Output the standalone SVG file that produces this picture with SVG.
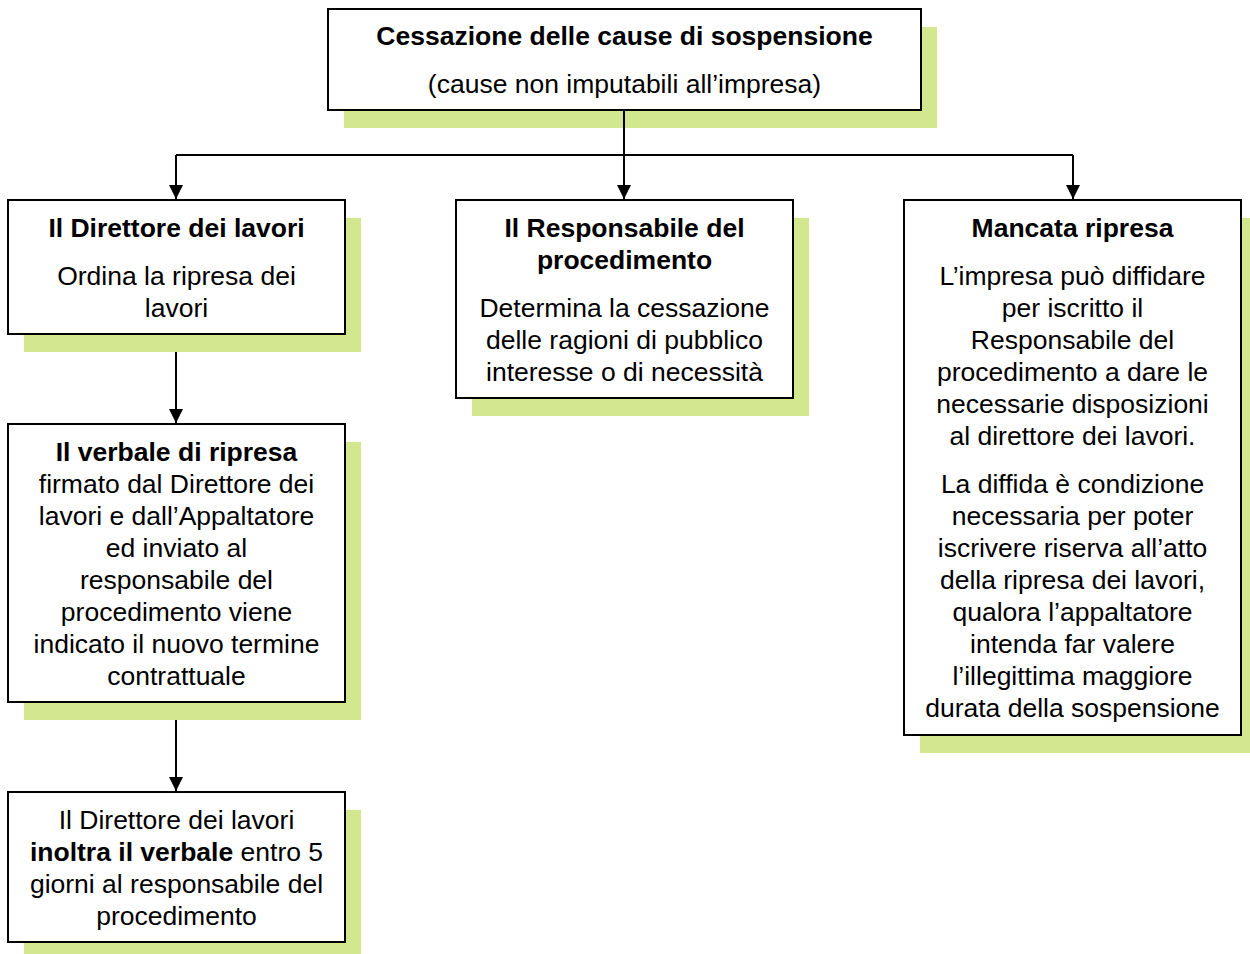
<svg xmlns="http://www.w3.org/2000/svg" width="1250" height="954" viewBox="0 0 1250 954">
<style>
.shadow{fill:#d3e88e;stroke:none}
.box{fill:#ffffff;stroke:#000000;stroke-width:2}
text{font-family:"Liberation Sans",Arial,sans-serif;font-size:26.5px;fill:#000;text-anchor:middle}
.b{font-weight:bold}
.conn{fill:none;stroke:#000;stroke-width:2}
</style>
<defs>
<marker id="arr" markerUnits="userSpaceOnUse" markerWidth="16" markerHeight="16" viewBox="0 0 16 16" refX="15" refY="8" orient="auto">
<path d="M1,1 L15,8 L1,15 Z" fill="#000"/>
</marker>
</defs>
<rect width="1250" height="954" fill="#ffffff"/>
<g id="top">
<rect class="shadow" x="344" y="27" width="593" height="101"/>
<rect class="box" x="328" y="9" width="593" height="101"/>
<text class="b" x="624.5" y="45">Cessazione delle cause di sospensione</text>
<text x="624.5" y="93">(cause non imputabili all’impresa)</text>
</g>
<g id="connectors">
<path class="conn" d="M624,110 V155"/>
<path class="conn" d="M176,155 H1073"/>
<path class="conn" d="M176,155 V199" marker-end="url(#arr)"/>
<path class="conn" d="M624,155 V199" marker-end="url(#arr)"/>
<path class="conn" d="M1073,155 V199" marker-end="url(#arr)"/>
<path class="conn" d="M176,334 V423" marker-end="url(#arr)"/>
<path class="conn" d="M176,702 V791" marker-end="url(#arr)"/>
</g>
<g id="direttore">
<rect class="shadow" x="24" y="218" width="337" height="134"/>
<rect class="box" x="8" y="200" width="337" height="134"/>
<text class="b" x="176.5" y="237">Il Direttore dei lavori</text>
<text x="176.5" y="285">Ordina la ripresa dei</text>
<text x="176.5" y="317">lavori</text>
</g>
<g id="verbale">
<rect class="shadow" x="24" y="442" width="337" height="278"/>
<rect class="box" x="8" y="424" width="337" height="278"/>
<text class="b" x="176.5" y="461">Il verbale di ripresa</text>
<text x="176.5" y="493">firmato dal Direttore dei</text>
<text x="176.5" y="525">lavori e dall’Appaltatore</text>
<text x="176.5" y="557">ed inviato al</text>
<text x="176.5" y="589">responsabile del</text>
<text x="176.5" y="621">procedimento viene</text>
<text x="176.5" y="653">indicato il nuovo termine</text>
<text x="176.5" y="685">contrattuale</text>
</g>
<g id="inoltra">
<rect class="shadow" x="24" y="810" width="337" height="144"/>
<rect class="box" x="8" y="792" width="337" height="150"/>
<text x="176.5" y="829">Il Direttore dei lavori</text>
<text x="176.5" y="861"><tspan class="b">inoltra il verbale</tspan> entro 5</text>
<text x="176.5" y="893">giorni al responsabile del</text>
<text x="176.5" y="925">procedimento</text>
</g>
<g id="responsabile">
<rect class="shadow" x="472" y="218" width="337" height="198"/>
<rect class="box" x="456" y="200" width="337" height="198"/>
<text class="b" x="624.5" y="237">Il Responsabile del</text>
<text class="b" x="624.5" y="269">procedimento</text>
<text x="624.5" y="317">Determina la cessazione</text>
<text x="624.5" y="349">delle ragioni di pubblico</text>
<text x="624.5" y="381">interesse o di necessità</text>
</g>
<g id="mancata">
<rect class="shadow" x="920" y="218" width="330" height="535"/>
<rect class="box" x="904" y="200" width="337" height="535"/>
<text class="b" x="1072.5" y="237">Mancata ripresa</text>
<text x="1072.5" y="285">L’impresa può diffidare</text>
<text x="1072.5" y="317">per iscritto il</text>
<text x="1072.5" y="349">Responsabile del</text>
<text x="1072.5" y="381">procedimento a dare le</text>
<text x="1072.5" y="413">necessarie disposizioni</text>
<text x="1072.5" y="445">al direttore dei lavori.</text>
<text x="1072.5" y="493">La diffida è condizione</text>
<text x="1072.5" y="525">necessaria per poter</text>
<text x="1072.5" y="557">iscrivere riserva all’atto</text>
<text x="1072.5" y="589">della ripresa dei lavori,</text>
<text x="1072.5" y="621">qualora l’appaltatore</text>
<text x="1072.5" y="653">intenda far valere</text>
<text x="1072.5" y="685">l’illegittima maggiore</text>
<text x="1072.5" y="717">durata della sospensione</text>
</g>
</svg>
